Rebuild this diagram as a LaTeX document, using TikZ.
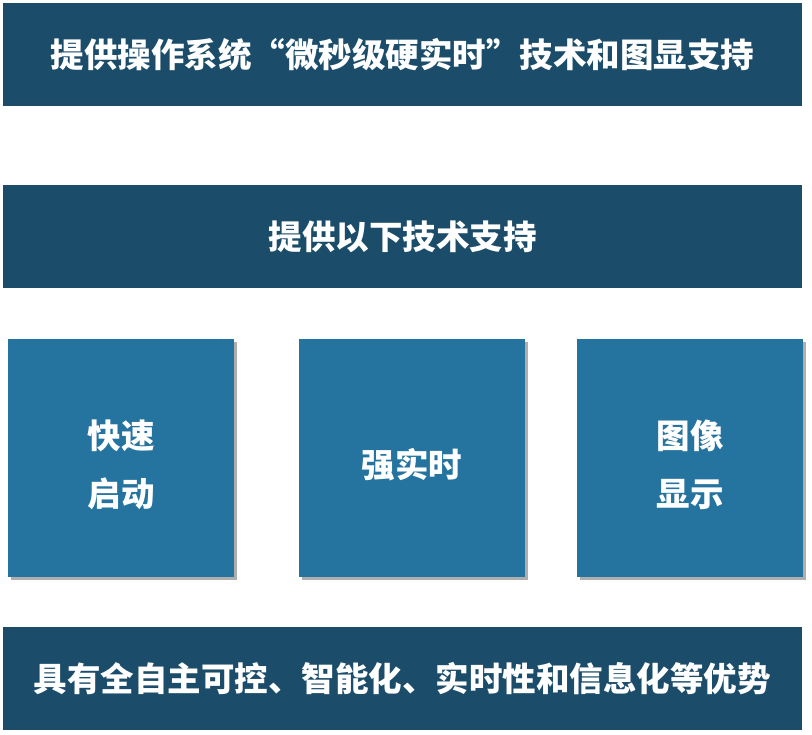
\documentclass[tikz,border=0pt]{standalone}
\usepackage{fontspec}
\setmainfont{Noto Sans CJK SC}
\usepackage{tikz}
\usetikzlibrary{shadows}
\definecolor{bannerblue}{HTML}{1B4D6B}
\definecolor{tileblue}{HTML}{2574A0}
\tikzset{
  banner/.style={fill=bannerblue, minimum width=799pt, minimum height=103pt, inner sep=0pt, text=white, font=\bfseries\fontsize{33.5pt}{40pt}\selectfont},
  tile/.style={fill=tileblue, minimum width=226pt, minimum height=238pt, inner sep=0pt,
    drop shadow={shadow xshift=2.5pt, shadow yshift=-3pt, opacity=0.45, fill=black!70}},
  tiletext/.style={yshift=-7pt, align=center, inner sep=0pt, text=white, font=\bfseries\fontsize{33.5pt}{58pt}\selectfont}
}
\begin{document}
\begin{tikzpicture}[x=1pt, y=1pt]
\useasboundingbox (0,0) rectangle (812,735);
% banners
\node[banner] (top) at (402.5,680.5) {提供操作系统“微秒级硬实时”技术和图显支持};
\node[banner] (support) at (402.5,498) {提供以下技术支持};
% feature tiles
\node[tile, label={[tiletext]center:快速\\启动}] (boot) at (121,277) {};
\node[tile, label={[tiletext]center:强实时}] (rt) at (412,277) {};
\node[tile, label={[tiletext]center:图像\\显示}] (gfx) at (690,277) {};
% bottom banner
\node[banner] (merit) at (402.5,56.5) {具有全自主可控、智能化、实时性和信息化等优势};
\end{tikzpicture}
\end{document}
